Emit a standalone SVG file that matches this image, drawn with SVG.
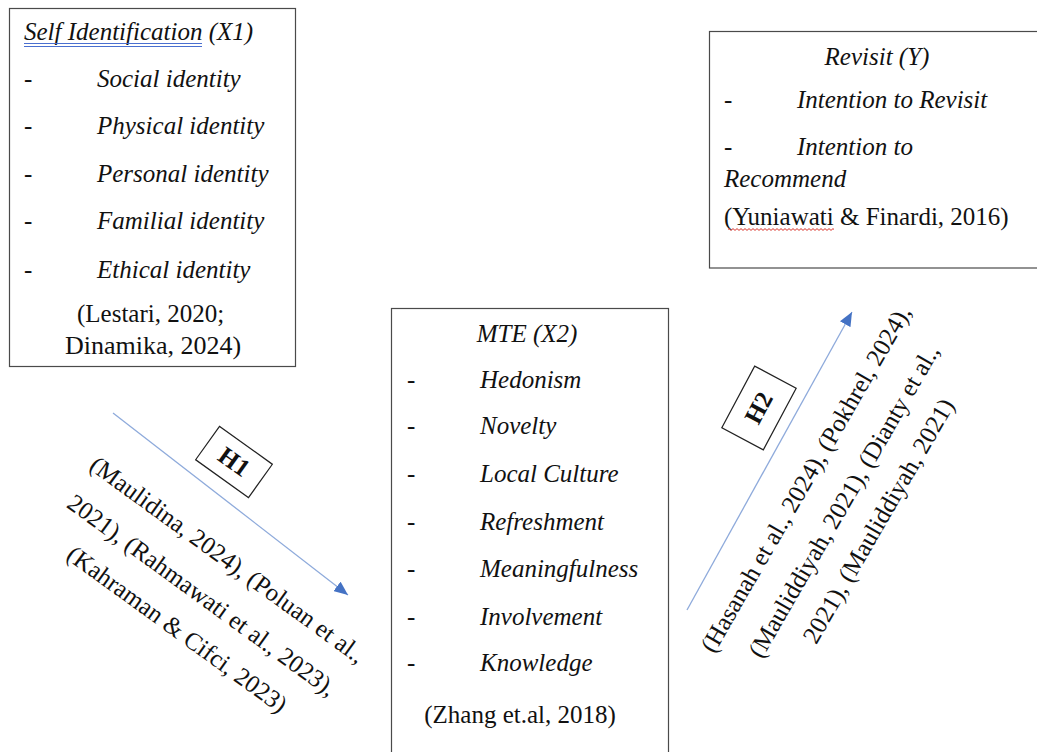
<svg xmlns="http://www.w3.org/2000/svg" width="1037" height="752" viewBox="0 0 1037 752">
<style>
.box{fill:#fff;stroke:#4a4a4a;stroke-width:1.2}
.t{font-family:"Liberation Serif","Times New Roman",serif;font-size:25px;fill:#111}
.i{font-style:italic}
.b{font-weight:bold}
.m{text-anchor:middle}
.conn{stroke:#8eaadb;stroke-width:1.3;fill:none}
.hb{fill:#fff;stroke:#222;stroke-width:1.2}
</style>
<defs>
<marker id="ah" markerUnits="userSpaceOnUse" markerWidth="16" markerHeight="12" refX="14" refY="6" orient="auto">
<path d="M0,0 L14,6 L0,12 Z" fill="#4472c4"/>
</marker>
</defs>
<rect width="1037" height="752" fill="#fff"/>

<g id="connectors">
<line class="conn" x1="113" y1="413" x2="348" y2="595" marker-end="url(#ah)"/>
<line class="conn" x1="687" y1="610" x2="852" y2="312" marker-end="url(#ah)"/>
</g>

<g id="x1">
<rect class="box" x="9.5" y="8.5" width="286" height="358"/>
<text class="t i" x="24" y="40">Self Identification (X1)</text>
<line x1="24" y1="43.5" x2="202" y2="43.5" stroke="#4a6fd0" stroke-width="1"/>
<line x1="24" y1="46.5" x2="202" y2="46.5" stroke="#4a6fd0" stroke-width="1"/>
<text class="t" x="24" y="87">-</text><text class="t i" x="97" y="87">Social identity</text>
<text class="t" x="24" y="134">-</text><text class="t i" x="97" y="134">Physical identity</text>
<text class="t" x="24" y="182">-</text><text class="t i" x="97" y="182">Personal identity</text>
<text class="t" x="24" y="229">-</text><text class="t i" x="97" y="229">Familial identity</text>
<text class="t" x="24" y="278">-</text><text class="t i" x="97" y="278">Ethical identity</text>
<text class="t" x="77" y="322">(Lestari, 2020;</text>
<text class="t" x="65" y="354" style="font-size:26px">Dinamika, 2024)</text>
</g>

<g id="y">
<rect class="box" x="709.5" y="31.5" width="340" height="236.5"/>
<text class="t i m" x="877" y="65">Revisit (Y)</text>
<text class="t" x="724" y="108">-</text><text class="t i" x="797" y="108">Intention to Revisit</text>
<text class="t" x="724" y="155">-</text><text class="t i" x="797" y="155">Intention to</text>
<text class="t i" x="724" y="187">Recommend</text>
<text class="t" x="724" y="225">(Yuniawati &amp; Finardi, 2016)</text>
<path d="M728,229.5 q1,-1.8 2,0 t2,0 t2,0 t2,0 t2,0 t2,0 t2,0 t2,0 t2,0 t2,0 t2,0 t2,0 t2,0 t2,0 t2,0 t2,0 t2,0 t2,0 t2,0 t2,0 t2,0 t2,0 t2,0 t2,0 t2,0 t2,0 t2,0 t2,0 t2,0 t2,0 t2,0 t2,0 t2,0 t2,0 t2,0 t2,0 t2,0 t2,0 t2,0 t2,0 t2,0 t2,0 t2,0 t2,0 t2,0 t2,0 t2,0 t2,0 t2,0 t2,0 t2,0 t2,0 t2,0" fill="none" stroke="#d9342b" stroke-width="1"/>
</g>

<g id="x2">
<rect class="box" x="391.5" y="308.5" width="277" height="470"/>
<text class="t i m" x="527" y="342">MTE (X2)</text>
<text class="t" x="407" y="388">-</text><text class="t i" x="480" y="388">Hedonism</text>
<text class="t" x="407" y="434">-</text><text class="t i" x="480" y="434">Novelty</text>
<text class="t" x="407" y="482">-</text><text class="t i" x="480" y="482">Local Culture</text>
<text class="t" x="407" y="530">-</text><text class="t i" x="480" y="530">Refreshment</text>
<text class="t" x="407" y="577">-</text><text class="t i" x="480" y="577">Meaningfulness</text>
<text class="t" x="407" y="625">-</text><text class="t i" x="480" y="625">Involvement</text>
<text class="t" x="407" y="671">-</text><text class="t i" x="480" y="671">Knowledge</text>
<text class="t m" x="520" y="723">(Zhang et.al, 2018)</text>
</g>

<g id="h1" transform="translate(234,462) rotate(35.6)">
<rect class="hb" x="-32.5" y="-20.5" width="65" height="41"/>
<text class="t b m" x="0" y="8">H1</text>
</g>

<g id="h2" transform="translate(759,408) rotate(-62)">
<rect class="hb" x="-35" y="-23.5" width="70" height="47"/>
<text class="t b m" x="0" y="8">H2</text>
</g>

<g id="h1-refs" transform="translate(197,602) rotate(36)">
<text class="t m" x="0" y="-44">(Maulidina, 2024), (Poluan et al.,</text>
<text class="t m" x="0" y="0">2021), (Rahmawati et al., 2023),</text>
<text class="t m" x="0" y="42">(Kahraman &amp; Cifci, 2023)</text>
</g>

<g id="h2-refs" transform="translate(851,505) rotate(-60)">
<text class="t m" x="0" y="-44">(Hasanah et al., 2024), (Pokhrel, 2024),</text>
<text class="t m" x="0" y="0">(Mauliddiyah, 2021), (Dianty et al.,</text>
<text class="t m" x="0" y="40">2021), (Mauliddiyah, 2021)</text>
</g>
</svg>
